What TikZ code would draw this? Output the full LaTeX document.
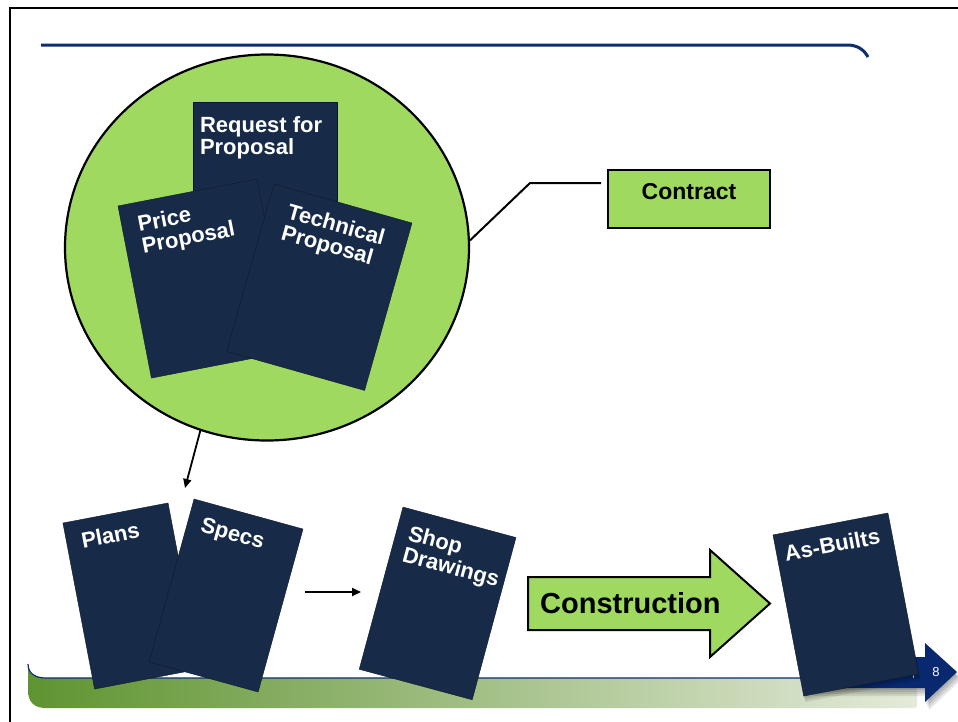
\documentclass[tikz,border=0pt]{standalone}
\usepackage{fontspec}
\setmainfont{Liberation Sans}
\usetikzlibrary{arrows.meta,shapes.geometric,calc}
\definecolor{lgreen}{RGB}{160,217,96}
\definecolor{navy}{RGB}{23,43,72}
\definecolor{navyedge}{RGB}{12,24,42}
\definecolor{lineblue}{RGB}{12,46,110}
\definecolor{arrowblue}{RGB}{8,40,112}
\definecolor{bandleft}{RGB}{95,148,48}
\definecolor{bandright}{RGB}{228,234,218}
\newcommand{\cardtext}[5]{%
  \parbox[c][#2pt][t]{#1pt}{\raggedright\leftskip=#3pt\fontsize{22}{22}\selectfont\bfseries\rule{0pt}{#4pt}#5}}
\tikzset{
  card/.style={fill=navy, draw=navyedge, line width=0.4pt, inner sep=0pt, text=white},
  conn/.style={line width=1.8pt, -{Triangle[length=9pt,width=8pt]}},
  plainline/.style={line width=2pt},
  greenbox/.style={draw=black, line width=2pt, fill=lgreen, inner sep=0pt},
  shadowlayer/.style={fill=black, opacity=0.09, draw=none}
}
\begin{document}
\begin{tikzpicture}[x=1pt,y=-1pt]
\useasboundingbox (0,0) rectangle (958,721);
\fill[white] (0,0) rectangle (958,721);
% frame
\draw[line width=2pt] (10,725) -- (10,8) -- (962,8);
% top rule
\draw[lineblue, line width=3pt] (41,45) -- (847,45) .. controls (858,45) and (864,50) .. (868,57);
% footer band
\shade[left color=bandleft, right color=bandright] (28,664) .. controls (28,674) and (36,678) .. (46,678) -- (917,678) -- (917,704) .. controls (917,707) .. (914,708) -- (46,708) .. controls (34,708) and (28,702) .. (28,690) -- cycle;
\draw[lineblue, line width=1.2pt] (28,664) .. controls (28,674) and (36,678) .. (46,678) -- (917,678);
% footer arrow with shadow
\foreach \d in {2,4,6,8}{
  \fill[shadowlayer] ($(810,657)+(0.5*\d,\d)$) -- ++(115,0) -- ++(0,-14) -- ++(32,29) -- ++(-32,30) -- ++(0,-14) -- ++(-115,0) -- cycle;
}
\fill[arrowblue] (810,657) -- (925,657) -- (925,643) -- (957,672) -- (925,702) -- (925,688) -- (810,688) -- cycle;
\draw[white, line width=0.7pt, opacity=0.8] (913,666) -- (913,678);
\node[text=white, font=\fontsize{13}{13}\selectfont, inner sep=0pt] (pnum) at (936,672) {8};
% big circle
\node[ellipse, draw=black, line width=2.2pt, fill=lgreen, minimum width=404pt, minimum height=386pt, inner sep=0pt] (circ) at (267,247.5) {};
% documents inside circle
\node[card] (rfp) at (265,190) {\cardtext{144}{175}{7}{30}{Request for\\Proposal}};
\node[card, rotate=11] (price) at (204.2,278.5) {\cardtext{141.6}{175.3}{16}{29.5}{Price\\Proposal}};
\node[card, rotate=-15.8] (tech) at (319.3,287.2) {\cardtext{143.4}{174}{21}{29.5}{Technical\\Proposal}};
% contract
\node[greenbox] (contract) at (689,199) {\parbox[c][58pt][t]{162pt}{\centering\fontsize{23}{23}\selectfont\bfseries\rule{0pt}{29pt}Contract}};
\coordinate (celbow) at (530,183);
\coordinate (cend) at (601,183);
\draw[plainline] (circ.2) -- (celbow) -- (cend);
% lower documents
\node[card, rotate=10.8] (plans) at (131.3,596) {\cardtext{107}{169}{15}{28.6}{Plans}};
\node[card, rotate=-15.4] (specs) at (226.1,595.5) {\cardtext{113}{169}{14}{30}{Specs}};
\node[card, rotate=-15.1] (shop) at (437.6,603.4) {\cardtext{117}{168}{12.5}{30.8}{Shop\\Drawings}};
\foreach \d in {2,4,6}{
  \node[shadowlayer, rotate=10.8, minimum width=117pt, minimum height=164pt, inner sep=0pt] at ($(845.8,604.5)+(0.3*\d,\d)$) {};
}
\node[card, rotate=10.8] (asbuilt) at (845.8,604.5) {\cardtext{117}{164}{8}{28.6}{As-Builts}};
% construction arrow
\draw[line width=2pt, fill=lgreen, line join=miter] (528,577) -- (710,577) -- (710,550) -- (770,603.5) -- (710,657) -- (710,630) -- (528,630) -- cycle;
\node[anchor=base west, inner sep=0pt, font=\fontsize{29}{29}\selectfont\bfseries] (constr) at (540,613) {Construction};
% connectors
\coordinate (docs) at (185,488);
\draw[conn] (circ.250) -- (docs);
\coordinate (s1) at (305,592);
\coordinate (s2) at (361,592);
\draw[conn] (s1) -- (s2);
\end{tikzpicture}
\end{document}
